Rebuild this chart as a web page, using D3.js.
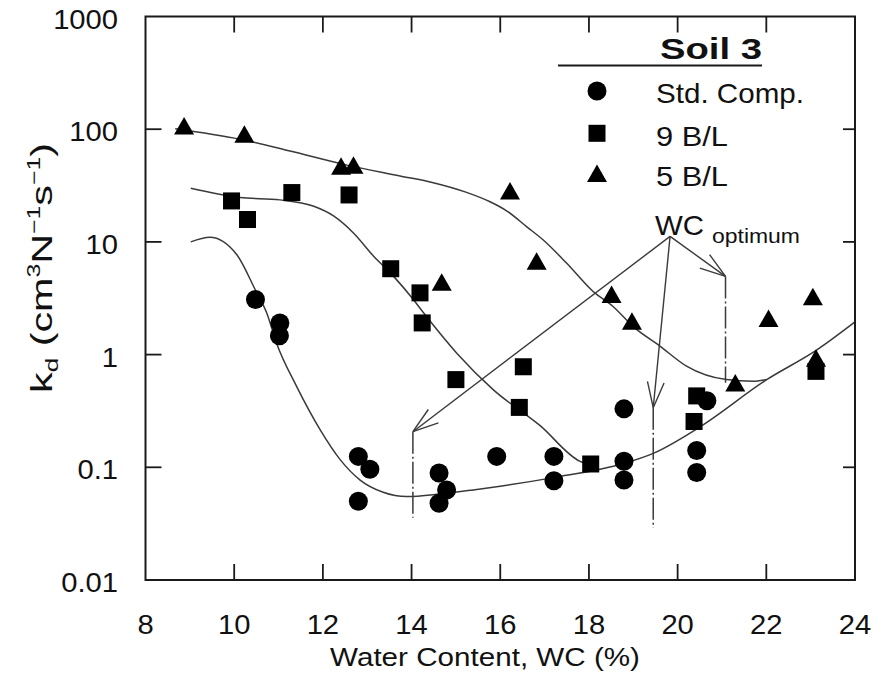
<!DOCTYPE html>
<html>
<head>
<meta charset="utf-8">
<script src="https://cdn.jsdelivr.net/npm/d3@7"></script>
<style>
  html, body { margin: 0; padding: 0; background: #fff; }
  svg { display: block; }
  text { font-family: "Liberation Sans", Arial, Helvetica, sans-serif; fill: #111; }
</style>
</head>
<body>
<svg id="chart" width="883" height="677"></svg>
<script>
// ---------------- data ----------------
const xTicks = [8, 10, 12, 14, 16, 18, 20, 22, 24];
const xTickLabels = ["8", "10", "12", "14", "16", "18", "20", "22", "24"];
const yTicks = [0.01, 0.1, 1, 10, 100, 1000];
const yTickLabels = ["0.01", "0.1", "1", "10", "100", "1000"];

// Std. Comp. (circles)
const stdX = [10.48, 11.03, 11.02, 12.80, 13.06, 12.80, 14.62, 14.79, 14.62, 15.92, 17.21, 17.21, 18.79, 18.79, 18.79, 20.43, 20.43, 20.66];
const stdY = [3.08, 1.91, 1.47, 0.125, 0.096, 0.050, 0.089, 0.063, 0.048, 0.125, 0.125, 0.076, 0.113, 0.077, 0.33, 0.141, 0.090, 0.39];
// 9 B/L (squares)
const b9X = [9.94, 10.30, 11.30, 12.59, 13.53, 14.19, 14.24, 15.00, 16.52, 16.43, 18.04, 20.43, 20.37, 23.12];
const b9Y = [23.1, 15.8, 27.4, 26.1, 5.78, 3.53, 1.91, 0.60, 0.78, 0.34, 0.107, 0.43, 0.255, 0.71];
// 5 B/L (triangles)
const b5X = [8.87, 10.23, 12.41, 12.69, 14.68, 16.22, 16.82, 18.51, 18.97, 21.30, 22.05, 23.05, 23.12];
const b5Y = [107, 90, 47, 47.9, 4.39, 28.3, 6.75, 3.41, 1.98, 0.56, 2.09, 3.26, 0.93];

// fitted curves
const stdFitX = [9.02, 9.45, 10.06, 10.47, 10.73, 10.96, 11.41, 11.94, 12.39, 12.84, 13.36, 13.89, 14.64, 15.39, 16.0, 17.2, 18.78, 19.45, 20.5, 22.0, 23.14, 24.0];
const stdFitY = [10, 11, 7.7, 3.8, 2.36, 1.25, 0.52, 0.215, 0.117, 0.077, 0.060, 0.055, 0.058, 0.063, 0.068, 0.081, 0.108, 0.133, 0.228, 0.596, 1.10, 1.95];
const b9FitX = [9.02, 10.13, 11.03, 11.78, 12.24, 12.69, 13.14, 13.59, 14.04, 14.27, 15.02, 15.84, 16.9, 17.8, 18.07];
const b9FitY = [29.9, 24.8, 23.6, 20.8, 17, 12, 7.5, 4.97, 3.08, 2.35, 1.03, 0.489, 0.234, 0.113, 0.105];
const b5FitX = [8.67, 10.13, 11.26, 12.54, 13.74, 14.49, 15.24, 15.77, 16.15, 16.60, 16.97, 17.50, 18.10, 18.55, 19.0, 19.6, 20.2, 21.1, 21.7, 22.0];
const b5FitY = [101, 81.5, 64, 48, 38.5, 33.5, 27.5, 22.7, 18.8, 13.6, 10.4, 6.46, 3.61, 2.66, 1.77, 1.19, 0.79, 0.6, 0.58, 0.6];

// WC optimum annotation
const wcLabelPoint = [19.83, 11.2];          // where the arrows start
const wcOptX = [14.03, 19.45, 21.08];        // optimum water contents
const wcOptTop = [0.207, 0.338, 4.94];       // arrow tips / top of the dash-dot markers
const wcOptBottom = [0.0356, 0.029, 0.564];  // bottom of the dash-dot markers

const legendLabels = ["Std. Comp.", "9 B/L", "5 B/L"];
const legendTitle = "Soil 3";

// ---------------- drawing ----------------
const svg = d3.select("#chart");
svg.append("rect").attr("width", 883).attr("height", 677).attr("fill", "#fff");

const x = d3.scaleLinear().domain([8, 24]).range([145.5, 855]);
const y = d3.scaleLog().domain([0.01, 1000]).range([580, 16.5]);

const INK = "#1a1a1a";
const CURVE = "#3a3a3a";

// helper: text fitted to a width by horizontal scaling
function fitText(parent, tx, ty, anchor, width, build, opts = {}) {
  const g = parent.append("g");
  const t = g.append("text").attr("text-anchor", anchor);
  build(t);
  const rot = opts.rotate ? ` rotate(${opts.rotate})` : "";
  let s = opts.scale || 1;
  if (width) {
    const w = t.node().getComputedTextLength();
    s = width / w;
  }
  g.attr("transform", `translate(${tx},${ty})${rot} scale(${s},1)`);
  return g;
}

// fitted curves
const line = d3.line().x(d => x(d[0])).y(d => y(d[1])).curve(d3.curveMonotoneX);
[[stdFitX, stdFitY], [b9FitX, b9FitY], [b5FitX, b5FitY]].forEach(([xs, ys]) => {
  svg.append("path")
    .attr("d", line(xs.map((v, i) => [v, ys[i]])))
    .attr("fill", "none").attr("stroke", CURVE).attr("stroke-width", 1.5);
});

// WC optimum arrows
const ax0 = x(wcLabelPoint[0]), ay0 = y(wcLabelPoint[1]);
wcOptX.forEach((wx, i) => {
  const tx = x(wx), ty = y(wcOptTop[i]);
  svg.append("line").attr("x1", ax0).attr("y1", ay0).attr("x2", tx).attr("y2", ty)
    .attr("stroke", CURVE).attr("stroke-width", 1.4);
  const ang = Math.atan2(ay0 - ty, ax0 - tx);
  const L = 27, a = 18 * Math.PI / 180;
  [ang - a, ang + a].forEach(b => {
    svg.append("line").attr("x1", tx).attr("y1", ty)
      .attr("x2", tx + L * Math.cos(b)).attr("y2", ty + L * Math.sin(b))
      .attr("stroke", CURVE).attr("stroke-width", 1.4);
  });
  svg.append("line").attr("x1", tx).attr("x2", tx)
    .attr("y1", ty).attr("y2", y(wcOptBottom[i]))
    .attr("stroke", CURVE).attr("stroke-width", 1.5)
    .attr("stroke-dasharray", "22,3,2,3");
});

// markers
const sym = {
  circle: g => g.append("circle").attr("r", 9.5),
  square: g => g.append("rect").attr("x", -8.5).attr("y", -8.5).attr("width", 17).attr("height", 17),
  triangle: g => g.append("path").attr("d", "M0,-9 L10,8.5 L-10,8.5 Z")
};
function drawPoints(xs, ys, kind) {
  xs.forEach((v, i) => {
    const g = svg.append("g").attr("transform", `translate(${x(v)},${y(ys[i])})`).attr("fill", "#000");
    sym[kind](g);
  });
}
drawPoints(b5X, b5Y, "triangle");
drawPoints(b9X, b9Y, "square");
drawPoints(stdX, stdY, "circle");

// frame
svg.append("rect").attr("x", x(8)).attr("y", y(1000))
  .attr("width", x(24) - x(8)).attr("height", y(0.01) - y(1000))
  .attr("fill", "none").attr("stroke", INK).attr("stroke-width", 2);

// ticks (inward on all sides)
const innerX = xTicks.slice(1, -1);
const innerY = yTicks.slice(1, -1);
innerX.forEach(v => {
  svg.append("line").attr("x1", x(v)).attr("x2", x(v)).attr("y1", y(0.01)).attr("y2", y(0.01) - 16).attr("stroke", INK).attr("stroke-width", 1.8);
  svg.append("line").attr("x1", x(v)).attr("x2", x(v)).attr("y1", y(1000)).attr("y2", y(1000) + 16).attr("stroke", INK).attr("stroke-width", 1.8);
});
innerY.forEach(v => {
  svg.append("line").attr("x1", x(8)).attr("x2", x(8) + 16).attr("y1", y(v)).attr("y2", y(v)).attr("stroke", INK).attr("stroke-width", 1.8);
  svg.append("line").attr("x1", x(24)).attr("x2", x(24) - 12).attr("y1", y(v)).attr("y2", y(v)).attr("stroke", INK).attr("stroke-width", 1.8);
});

// tick labels
xTicks.forEach((v, i) => {
  fitText(svg, x(v), 633.5, "middle", null, t => t.attr("font-size", 27).text(xTickLabels[i]), { scale: 1.08 });
});
yTicks.forEach((v, i) => {
  fitText(svg, 118, y(v) + 12, "end", null, t => t.attr("font-size", 27).text(yTickLabels[i]), { scale: 1.08 });
});

// axis titles
fitText(svg, 485, 666, "middle", 310, t => t.attr("font-size", 26).text("Water Content, WC (%)"));
fitText(svg, 52, 268, "middle", 250, t => {
  t.attr("font-size", 30);
  t.append("tspan").text("k");
  t.append("tspan").attr("font-size", 19).attr("dy", 6).text("d");
  t.append("tspan").attr("dy", -6).text(" (cm");
  t.append("tspan").attr("font-size", 18).attr("dy", -12).text("3");
  t.append("tspan").attr("dy", 12).text("N");
  t.append("tspan").attr("font-size", 18).attr("dy", -12).text("\u22121");
  t.append("tspan").attr("dy", 12).text("s");
  t.append("tspan").attr("font-size", 18).attr("dy", -12).text("\u22121");
  t.append("tspan").attr("dy", 12).text(")");
}, { rotate: -90 });

// legend
fitText(svg, 660, 59, "start", 102, t => t.attr("font-size", 29).attr("font-weight", "bold").text(legendTitle));
svg.append("line").attr("x1", 558).attr("x2", 762).attr("y1", 65.5).attr("y2", 65.5).attr("stroke", INK).attr("stroke-width", 2);

const legKinds = ["circle", "square", "triangle"];
const legMarkerY = [91, 133.3, 173.5];
const legTextY = [102.5, 145.5, 186];
const legTextW = [148, 72, 72];
legendLabels.forEach((lab, i) => {
  const g = svg.append("g").attr("transform", `translate(597,${legMarkerY[i]})`).attr("fill", "#000");
  sym[legKinds[i]](g);
  fitText(svg, 656, legTextY[i], "start", legTextW[i], t => t.attr("font-size", 27).text(lab));
});

// WC optimum label
fitText(svg, 655, 235, "start", 49, t => t.attr("font-size", 27).text("WC"));
fitText(svg, 712, 243, "start", 88, t => t.attr("font-size", 20).text("optimum"));
</script>
</body>
</html>
